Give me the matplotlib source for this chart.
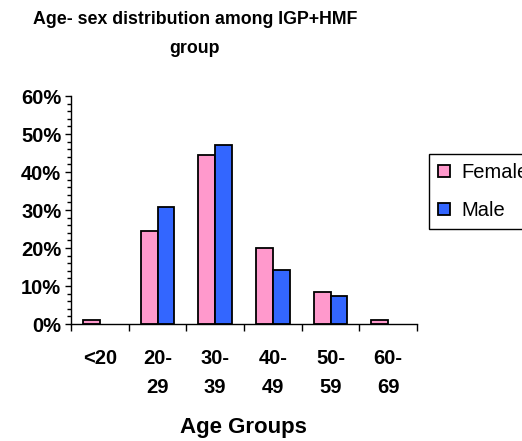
import matplotlib
matplotlib.use("Agg")
import matplotlib.pyplot as plt
import numpy as np
from matplotlib.ticker import MultipleLocator, FuncFormatter

categories = ["<20", "20-\n29", "30-\n39", "40-\n49", "50-\n59", "60-\n69"]
female = [1.0, 24.5, 44.5, 19.9, 8.4, 1.0]
male = [0.0, 30.8, 47.2, 14.1, 7.3, 0.0]

plt.rcParams["font.family"] = ["Liberation Sans", "DejaVu Sans"]

fig = plt.figure(figsize=(5.22, 4.41), dpi=100)
ax = fig.add_axes([71/522, 1 - 324/441, (417 - 71)/522, (324 - 96)/441])

x = np.arange(len(categories))
w = 0.29


def draw_series(values, offset, color, label):
    vals = np.asarray(values, dtype=float)
    keep = vals > 0  # empty groups get no bar at all
    ax.bar(x[keep] + offset, vals[keep], width=w, color=color,
           edgecolor="black", linewidth=1.3, label=label)


draw_series(female, -w/2, "#FF99CC", "Female")
draw_series(male, w/2, "#3366FF", "Male")

ax.set_xlim(-0.5, len(categories) - 0.5)
ax.set_ylim(0, 60)
ax.spines["top"].set_visible(False)
ax.spines["right"].set_visible(False)
ax.spines["left"].set_linewidth(1.0)
ax.spines["bottom"].set_linewidth(1.0)

ax.yaxis.set_major_locator(MultipleLocator(10))
ax.yaxis.set_minor_locator(MultipleLocator(2))
ax.yaxis.set_major_formatter(FuncFormatter(lambda v, p: f"{int(v)}%"))
ax.tick_params(axis="y", which="major", length=4, width=1, labelsize=14.5, pad=3)
ax.tick_params(axis="y", which="minor", length=3, width=1)
for t in ax.get_yticklabels():
    t.set_fontweight("bold")

# boundary ticks between groups, labels centred under each group
ax.set_xticks(np.arange(-0.5, len(categories)), minor=False)
ax.set_xticklabels([""] * (len(categories) + 1))
ax.tick_params(axis="x", which="major", length=5, width=1)
ax.set_xticks(x, minor=True)
ax.set_xticklabels(categories, minor=True, fontsize=14.5, fontweight="bold", linespacing=1.65)
ax.tick_params(axis="x", which="minor", length=0, pad=18)

fig.text(243/522, 1 - 428/441, "Age Groups", ha="center", va="center", fontsize=16, fontweight="bold")
fig.text(195/522, 1 - 34/441, "Age- sex distribution among IGP+HMF\ngroup", ha="center", va="center",
         fontsize=12.75, fontweight="bold", linespacing=1.85)

# legend box runs past the right edge of the figure
leg = ax.legend(loc="upper left", bbox_to_anchor=(429/522, 1 - 154/441), bbox_transform=fig.transFigure,
                fontsize=14.5, frameon=True, fancybox=False, edgecolor="black", framealpha=1,
                handlelength=0.6, handleheight=0.6, handletextpad=0.55, borderpad=0.45,
                labelspacing=0.95, borderaxespad=0)
leg.get_frame().set_linewidth(1.0)

fig.savefig("out.png", dpi=100)
